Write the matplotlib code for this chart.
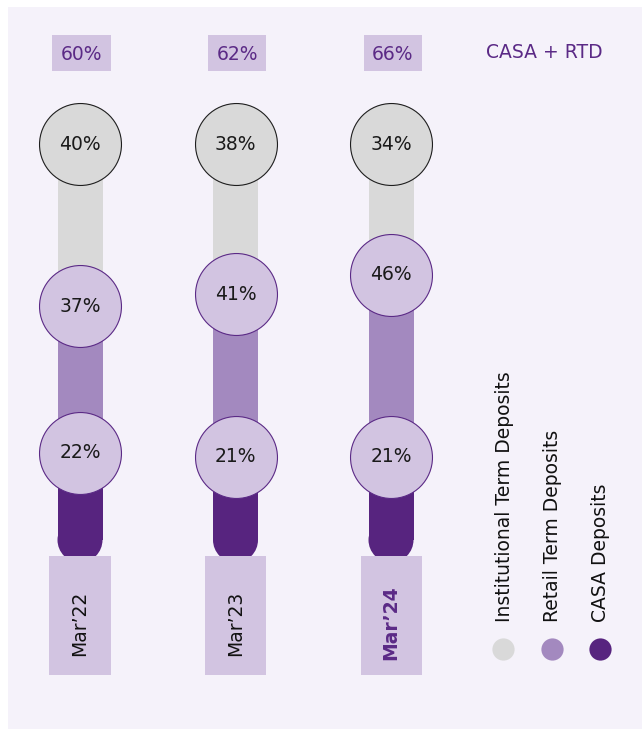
import matplotlib
matplotlib.use("Agg")
import matplotlib.pyplot as plt
from matplotlib.patches import Rectangle, Ellipse
import numpy as np

# ---- data -------------------------------------------------------------
periods = ["Mar\u201922", "Mar\u201923", "Mar\u201924"]
casa = [22, 21, 21]
retail_td = [37, 41, 46]
institutional_td = [40, 38, 34]
casa_plus_rtd = [60, 62, 66]
series_names = ["Institutional Term Deposits", "Retail Term Deposits", "CASA Deposits"]
summary_title = "CASA + RTD"
full_scale = 100

# ---- style ------------------------------------------------------------
C_GREY = "#d9d9d9"
C_MID = "#a389bf"
C_DARK = "#57247f"
C_LIGHT = "#d2c4e1"
C_TEXT_PURPLE = "#5b2a86"
C_PANEL = "#f5f2fa"
plt.rcParams["font.family"] = ["DejaVu Sans"]
FS = 13.5

W, H, DPI = 642, 729, 100
fig = plt.figure(figsize=(W / DPI, H / DPI), dpi=DPI)
fig.patch.set_facecolor("white")

# pixel-space layer for panel and legend
bg = fig.add_axes([0, 0, 1, 1])
bg.set_xlim(0, W)
bg.set_ylim(H, 0)
bg.axis("off")
bg.add_patch(Rectangle((8, 7), W - 8, H - 7, color=C_PANEL, lw=0, zorder=0))

# data layer: x = period index, y = percent
ax = fig.add_axes([0, 0, 1, 1])
ax.axis("off")
ax.patch.set_alpha(0)
step = 155.5      # px between bars
x_first = 80      # px of the first bar centre
scale = 3.96      # px per percentage point
base = 540        # px (from top) of the 0% line
ax.set_xlim(-x_first / step, (W - x_first) / step)
ax.set_ylim(-(H - base) / scale, base / scale)


def ypx(p):
    """percent-axis value for a pixel row measured from the top"""
    return (base - p) / scale


x = np.arange(len(periods))
casa_a = np.array(casa)
retail_a = np.array(retail_td)
inst_a = np.array(institutional_td)
bw = 45 / step

# stacked bars
ax.bar(x, casa_a, width=bw, color=C_DARK, lw=0, zorder=2)
ax.bar(x, retail_a, width=bw, bottom=casa_a, color=C_MID, lw=0, zorder=2)
ax.bar(x, inst_a, width=bw, bottom=casa_a + retail_a, color=C_GREY, lw=0, zorder=2)
# rounded foot of each bar
for xi in x:
    ax.add_patch(Ellipse((xi, 0), bw, 45 / scale, facecolor=C_DARK, lw=0, zorder=2))

# value bubbles: CASA and retail at their segment tops, institutional at the bar top
circ_s = 59.0 ** 2
tops_casa = casa_a
tops_retail = casa_a + retail_a
tops_inst = np.full(len(x), full_scale)
ax.scatter(x, tops_casa, s=circ_s, facecolor=C_LIGHT, edgecolor=C_TEXT_PURPLE,
           linewidth=0.8, zorder=3)
ax.scatter(x, tops_retail, s=circ_s, facecolor=C_LIGHT, edgecolor=C_TEXT_PURPLE,
           linewidth=0.8, zorder=3)
ax.scatter(x, tops_inst, s=circ_s, facecolor=C_GREY, edgecolor="#1e1e1e",
           linewidth=0.8, zorder=3)
for tops, vals in ((tops_casa, casa_a), (tops_retail, retail_a), (tops_inst, inst_a)):
    for xi, yt, v in zip(x, tops, vals):
        ax.text(xi, yt, f"{v}%", ha="center", va="center", fontsize=FS,
                color="#1a1a1a", zorder=4)

# CASA + RTD share boxes on top
box_w = 58 / step
for xi, v in zip(x, casa_plus_rtd):
    ax.add_patch(Rectangle((xi - box_w / 2 + 1.5 / step, ypx(71)), box_w, (71 - 35) / scale,
                           color=C_LIGHT, lw=0, zorder=2))
    ax.text(xi + 1.5 / step, ypx(54), f"{v}%", ha="center", va="center", fontsize=FS,
            color=C_TEXT_PURPLE, zorder=3)
bg.text(544, 52, summary_title, ha="center", va="center", fontsize=FS, color=C_TEXT_PURPLE)

# period label boxes
lab_w = 61 / step
for i, (xi, lab) in enumerate(zip(x, periods)):
    ax.add_patch(Rectangle((xi - lab_w / 2, ypx(675)), lab_w, (675 - 556) / scale,
                           color=C_LIGHT, lw=0, zorder=2))
    last = i == len(periods) - 1
    ax.text(xi, ypx(623), lab, rotation=90, ha="center", va="center", fontsize=FS,
            fontweight="bold" if last else "normal",
            color=C_TEXT_PURPLE if last else "#111111", zorder=3)

# legend
leg_x = [503, 552, 600]
for lx, name, col in zip(leg_x, series_names, [C_GREY, C_MID, C_DARK]):
    bg.scatter([lx], [649], s=16 ** 2, color=col, lw=0, zorder=3)
    bg.text(lx + 1, 622, name, rotation=90, ha="center", va="bottom", fontsize=FS,
            color="#111111")

fig.savefig("out.png", dpi=DPI, facecolor=fig.get_facecolor())
